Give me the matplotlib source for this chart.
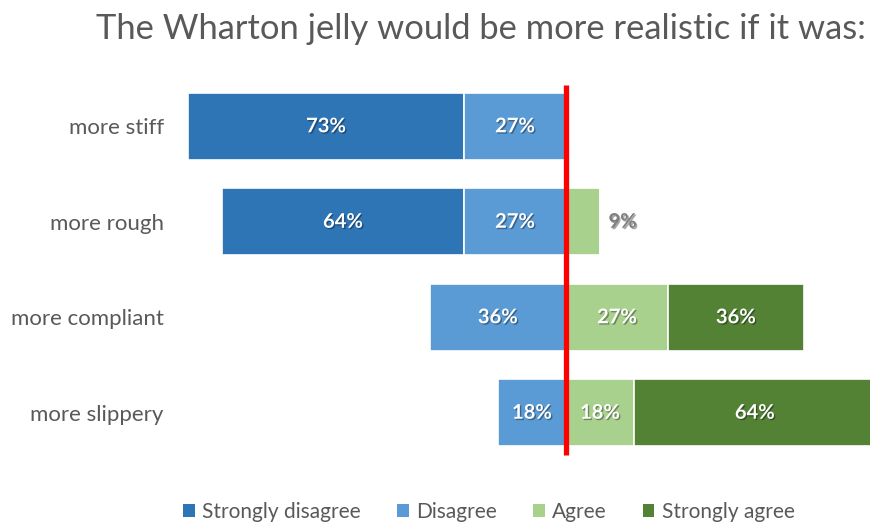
import numpy as np
import matplotlib
matplotlib.use("Agg")
import matplotlib.pyplot as plt
import matplotlib.patheffects as pe
from matplotlib.patches import Patch

plt.rcParams['font.family'] = ['Lato', 'DejaVu Sans']

# survey answers, percent of respondents
items = ["more stiff", "more rough", "more compliant", "more slippery"]
strongly_disagree = [73, 64, 0, 0]
disagree = [27, 27, 36, 18]
agree = [0, 9, 27, 18]
strongly_agree = [0, 0, 36, 64]

series = ["Strongly disagree", "Disagree", "Agree", "Strongly agree"]
colors = ["#2E75B6", "#5B9BD5", "#A9D18E", "#548235"]
grey = "#595959"

fig = plt.figure(figsize=(8.71, 5.24), dpi=100)
ax = fig.add_axes([188 / 871, 1 - 470 / 524, 682 / 871, 401 / 524])

y = np.arange(len(items))
sd = np.array(strongly_disagree)
d = np.array(disagree)
a = np.array(agree)
sa = np.array(strongly_agree)

# negative side stacks leftwards from zero, positive side rightwards
segs = [(-(sd + d), sd), (-d, d), (np.zeros(len(a)), a), (a, sa)]
shadow = [pe.SimplePatchShadow(offset=(1, -1), shadow_rgbFace="black", alpha=0.35),
          pe.Normal()]

for (left, width), col in zip(segs, colors):
    ax.barh(y, width, left=left, height=0.70, color=col, edgecolor="white", linewidth=1.2)
    for yi, l, w in zip(y, left, width):
        if w == 0:
            continue
        if w < 10:
            ax.text(l + w + 6.0, yi, f"{w}%", ha="center", va="center", fontsize=14.5,
                    fontweight="bold", color="#7F7F7F", path_effects=shadow)
        else:
            ax.text(l + w / 2, yi, f"{w}%", ha="center", va="center", fontsize=14.5,
                    fontweight="bold", color="white", path_effects=shadow)

ax.plot([0, 0], [-0.43, 3.44], color="#FF0000", linewidth=3.8, solid_capstyle="butt", zorder=5)

ax.set_xlim(-100, 80.5)
ax.set_ylim(3.6, -0.6)
ax.set_yticks(y)
ax.set_yticklabels(items, fontsize=16, color=grey)
ax.tick_params(axis="y", length=0, pad=17.5)
ax.set_xticks([])
for s in ax.spines.values():
    s.set_visible(False)

fig.text(481 / 871, 1 - 29 / 524, "The Wharton jelly would be more realistic if it was:",
         ha="center", va="center", fontsize=24.8, color=grey)

handles = [Patch(facecolor=c, edgecolor="none") for c in colors]
fig.legend(handles, series, loc="center", bbox_to_anchor=(489 / 871, 1 - 512 / 524), ncol=4,
           frameon=False, fontsize=15, labelcolor=grey, handlelength=0.55, handleheight=0.55,
           handletextpad=0.35, columnspacing=1.75)

fig.savefig("out.png", dpi=100)
